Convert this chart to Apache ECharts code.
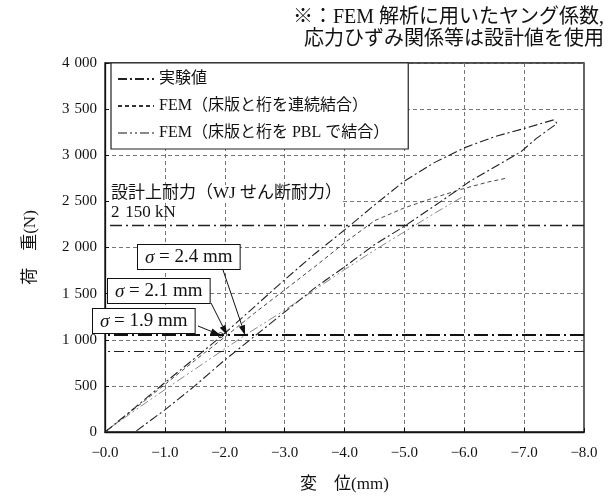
<!DOCTYPE html>
<html><head><meta charset="utf-8">
<script src="https://cdn.jsdelivr.net/npm/echarts@6/dist/echarts.min.js"></script>
<style>html,body{margin:0;padding:0;background:#fff}#c{width:614px;height:498px}</style>
</head><body><div id="c"></div>
<script>
// ---- data ----
const seriesNames = ['実験値', 'FEM（床版と桁を連続結合）', 'FEM（床版と桁を PBL で結合）'];
const xTicks = [0, -1, -2, -3, -4, -5, -6, -7, -8];
const yTicks = [0, 500, 1000, 1500, 2000, 2500, 3000, 3500, 4000];

// experiment: loading branch then unloading branch
const expX = [0, -0.5, -1.0, -1.5, -2.0, -2.5, -3.0, -3.5, -4.0, -4.5, -5.0, -5.5, -6.0, -6.5, -7.0, -7.5,
              -7.55, -7.2, -6.95, -6.5, -6.1, -5.5, -5.0, -4.5, -4.0, -3.5, -3.0, -2.5, -2.0, -1.5, -1.0, -0.5];
const expY = [0, 265, 535, 800, 1070, 1360, 1650, 1930, 2190, 2460, 2720, 2920, 3080, 3200, 3290, 3385,
              3345, 3180, 3040, 2870, 2720, 2450, 2230, 2030, 1790, 1560, 1300, 1040, 780, 500, 240, 0];
const femContX = [0, -0.5, -1.0, -1.5, -2.04, -2.5, -3.0, -3.5, -4.0, -4.5, -5.0, -5.5, -6.0, -6.4, -6.73];
const femContY = [0, 255, 515, 775, 1050, 1290, 1540, 1790, 2050, 2290, 2430, 2540, 2640, 2710, 2755];
const femPblX = [0, -0.5, -1.0, -1.5, -2.0, -2.34, -3.0, -3.5, -4.0, -4.5, -5.0, -5.5, -6.0];
const femPblY = [0, 235, 460, 680, 900, 1050, 1320, 1540, 1760, 1970, 2170, 2370, 2560];

const refLines = [1050, 870, 2240];           // horizontal reference levels
const sigmaLabels = ['σ = 1.9 mm', 'σ = 2.1 mm', 'σ = 2.4 mm'];
const sigmaX = [-1.93, -2.04, -2.34];         // where each curve meets the 1050 line
const sigmaY = 1050;

const FONT = "'Liberation Serif','Noto Sans CJK JP',serif";
const pairs = (xs, ys) => xs.map((x, i) => [x, ys[i]]);
const fmtY = v => v >= 1000 ? Math.floor(v / 1000) + '\u2004' + String(v % 1000).padStart(3, '0') : String(v);

const chart = echarts.init(document.getElementById('c'));
const option = {
  backgroundColor: '#fff',
  animation: false,
  color: ['#222', '#333', '#888'],
  textStyle: { fontFamily: FONT, color: '#111' },
  grid: { left: 105, right: 30, top: 63, bottom: 61, show: true, borderColor: '#111', borderWidth: 1.3, backgroundColor: 'transparent' },
  legend: {
    orient: 'vertical', left: 111, top: 63,
    itemWidth: 36, itemHeight: 16, itemGap: 11,
    padding: [8, 19, 8, 6],
    borderColor: '#222', borderWidth: 1.2, backgroundColor: '#fff',
    itemStyle: { opacity: 0 },
    textStyle: { fontFamily: FONT, fontSize: 16, color: '#111' },
    data: seriesNames
  },
  xAxis: [{
    type: 'value', min: -8, max: 0, interval: 1, inverse: true,
    name: '変　位(mm)', nameLocation: 'middle', nameGap: 44,
    nameTextStyle: { fontFamily: FONT, fontSize: 17, color: '#111' },
    axisLine: { show: true, lineStyle: { color: '#111', width: 1.3 } },
    axisTick: { show: true, inside: true, length: 4, lineStyle: { color: '#111' } },
    axisLabel: { fontFamily: FONT, fontSize: 15, color: '#111', margin: 14, formatter: v => '−' + Math.abs(v).toFixed(1) },
    splitLine: { show: true, lineStyle: { color: '#666', width: 0.9, type: [4, 3] } }
  }],
  yAxis: [{
    type: 'value', min: 0, max: 4000, interval: 500,
    name: '荷　重(N)', nameLocation: 'middle', nameGap: 66, nameRotate: 90,
    nameTextStyle: { fontFamily: FONT, fontSize: 17, color: '#111' },
    axisLine: { show: true, lineStyle: { color: '#111', width: 1.3 } },
    axisTick: { show: true, inside: true, length: 4, lineStyle: { color: '#111' } },
    axisLabel: { fontFamily: FONT, fontSize: 15, color: '#111', margin: 8, formatter: fmtY },
    splitLine: { show: true, lineStyle: { color: '#666', width: 0.9, type: [4, 3] } }
  }],
  series: [
    {
      name: seriesNames[0], type: 'line', data: pairs(expX, expY), showSymbol: false, symbol: 'none',
      itemStyle: { color: '#222' },
      lineStyle: { color: '#222', width: 1.1, type: [9, 3, 2, 3] }, z: 5,
      markLine: {
        silent: true, symbol: 'none', label: { show: false },
        data: [
          { yAxis: refLines[0], lineStyle: { color: '#111', width: 2, type: [14, 4, 2, 4] } },
          { yAxis: refLines[1], lineStyle: { color: '#222', width: 1.1, type: [10, 4, 2, 4] } },
          { yAxis: refLines[2], lineStyle: { color: '#222', width: 1.3, type: [12, 4, 2, 4] } }
        ]
      }
    },
    {
      name: seriesNames[1], type: 'line', data: pairs(femContX, femContY), showSymbol: false, symbol: 'none',
      itemStyle: { color: '#333' },
      lineStyle: { color: '#333', width: 0.9, type: [4, 3] }, z: 4
    },
    {
      name: seriesNames[2], type: 'line', data: pairs(femPblX, femPblY), showSymbol: false, symbol: 'none',
      itemStyle: { color: '#888' },
      lineStyle: { color: '#888', width: 1, type: [9, 3, 2, 3, 2, 3] }, z: 3
    }
  ]
};
chart.setOption(option);

// ---- annotations ----
const tips = sigmaX.map(x => chart.convertToPixel({ xAxisIndex: 0, yAxisIndex: 0 }, [x, sigmaY]));
const boxes = [ // [left, top] of each sigma box, and the arrow start point
  { x: 92, y: 308, sx: 198, sy: 326 },
  { x: 107, y: 278, sx: 211, sy: 303 },
  { x: 137, y: 244, sx: 223, sy: 270 }
];
function arrow(sx, sy, tx, ty) {
  const ang = Math.atan2(ty - sy, tx - sx), L = 10, W = 3.2;
  const bx = tx - L * Math.cos(ang), by = ty - L * Math.sin(ang);
  const px = -Math.sin(ang) * W, py = Math.cos(ang) * W;
  return [
    { type: 'line', shape: { x1: sx, y1: sy, x2: bx, y2: by }, style: { stroke: '#111', lineWidth: 1 }, z: 20 },
    { type: 'polygon', shape: { points: [[tx, ty], [bx + px, by + py], [bx - px, by - py]] }, style: { fill: '#111' }, z: 20 }
  ];
}
const g = [];
boxes.forEach((b, i) => {
  const parts = sigmaLabels[i].split('σ');
  g.push({
    type: 'text', left: b.x, top: b.y, z: 21,
    style: {
      text: '{i|σ}' + parts[1], fontFamily: FONT, fontSize: 19, fill: '#111',
      backgroundColor: '#fff', borderColor: '#111', borderWidth: 1, padding: [3, 7, 2, 7],
      rich: { i: { fontFamily: FONT, fontStyle: 'italic', fontSize: 19, fill: '#111' } }
    }
  });
  g.push(...arrow(b.sx, b.sy, tips[i][0], tips[i][1]));
});
g.push({ type: 'circle', shape: { cx: tips[0][0], cy: tips[0][1], r: 2.5 }, style: { fill: 'none', stroke: '#111', lineWidth: 0.8 }, z: 20 });
g.push({ type: 'text', left: 111, top: 185, z: 21, style: { text: '設計上耐力（WJ せん断耐力）', fontFamily: FONT, fontSize: 17, fill: '#111', backgroundColor: '#fff' } });
g.push({ type: 'text', left: 111, top: 204, z: 21, style: { text: '2\u2004150 kN', fontFamily: FONT, fontSize: 17, fill: '#111' } });
g.push({ type: 'text', right: 10, top: 8, z: 21, style: { text: '※：FEM 解析に用いたヤング係数,', fontFamily: FONT, fontSize: 20, fill: '#111' } });
g.push({ type: 'text', right: 10, top: 30, z: 21, style: { text: '応力ひずみ関係等は設計値を使用', fontFamily: FONT, fontSize: 20, fill: '#111' } });
chart.setOption({ graphic: g });
</script></body></html>
